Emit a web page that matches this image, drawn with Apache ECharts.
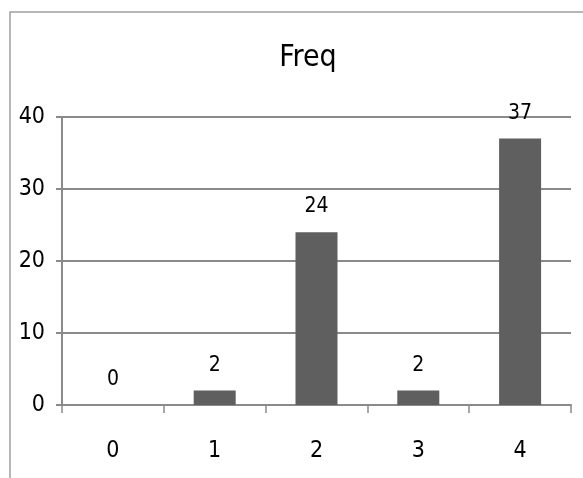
<!DOCTYPE html>
<html>
<head>
<meta charset="utf-8">
<title>Freq</title>
<script src="https://cdn.jsdelivr.net/npm/echarts@6/dist/echarts.min.js"></script>
<style>
  html, body { margin: 0; padding: 0; background: #ffffff; }
  #chart { width: 583px; height: 478px; }
</style>
</head>
<body>
<div id="chart"></div>
<script>
// Frequency counts per category
const categories = ['0', '1', '2', '3', '4'];
const freqValues = [0, 2, 24, 2, 37];
const yTicks = { min: 0, max: 40, interval: 10 };
const chartTitle = 'Freq';

const FONT = "'DejaVu Sans Condensed', 'Liberation Sans', sans-serif";
const GRID_GRAY = '#8a8a8a';

const chart = echarts.init(document.getElementById('chart'), null, { renderer: 'canvas' });

chart.setOption({
  backgroundColor: '#ffffff',
  animation: false,
  title: {
    text: chartTitle,
    left: 303,
    top: 38,
    textAlign: 'center',
    textStyle: { fontFamily: FONT, fontSize: 30, fontWeight: 'normal', color: '#000000' }
  },
  graphic: [{
    type: 'rect',
    shape: { x: 10, y: 12, width: 620, height: 520 },
    style: { fill: 'none', stroke: '#a0a0a0', lineWidth: 1.5 },
    silent: true,
    z: -1
  }],
  grid: { left: 62, right: 12, top: 117, bottom: 73, containLabel: false },
  xAxis: {
    type: 'category',
    data: categories,
    boundaryGap: true,
    axisLine: { show: true, lineStyle: { color: GRID_GRAY, width: 2 } },
    axisTick: { show: true, alignWithLabel: false, length: 8, lineStyle: { color: GRID_GRAY, width: 1.5 } },
    axisLabel: { margin: 35, fontFamily: FONT, fontSize: 23, color: '#000000' },
    splitLine: { show: false }
  },
  yAxis: {
    type: 'value',
    min: yTicks.min,
    max: yTicks.max,
    interval: yTicks.interval,
    axisLine: { show: true, lineStyle: { color: GRID_GRAY, width: 2 } },
    axisTick: { show: true, length: 6, lineStyle: { color: GRID_GRAY, width: 2 } },
    axisLabel: { margin: 17, fontFamily: FONT, fontSize: 23, color: '#000000' },
    splitLine: { show: true, lineStyle: { color: GRID_GRAY, width: 2 } }
  },
  series: [{
    type: 'bar',
    data: freqValues,
    barWidth: 42,
    itemStyle: { color: '#5f5f5f' },
    label: {
      show: true,
      position: 'top',
      distance: 15,
      fontFamily: FONT,
      fontSize: 21,
      color: '#000000'
    }
  }]
});
</script>
</body>
</html>
